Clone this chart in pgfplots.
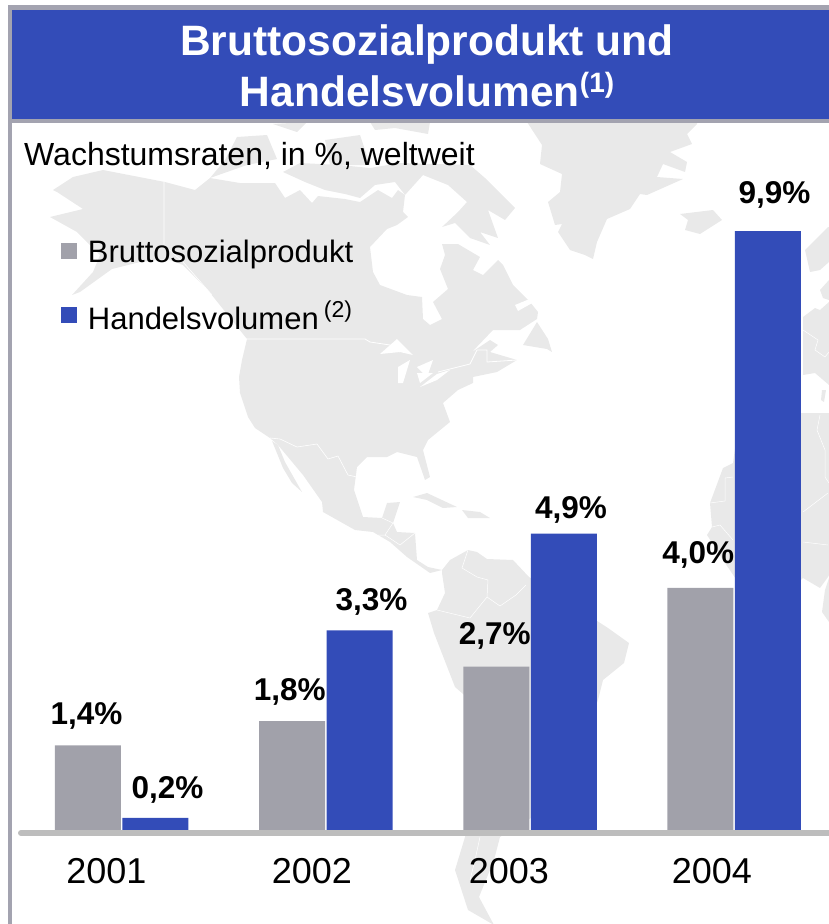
\documentclass[border=0pt]{standalone}
\usepackage{fontspec}
\setmainfont{Liberation Sans}
\usepackage{pgfplots}
\usepackage{pgfplotstable}
\pgfplotsset{compat=1.18}
\definecolor{mapc}{HTML}{E9E9E9}
\definecolor{barg}{HTML}{A1A1AA}
\definecolor{barb}{HTML}{334CB8}
\definecolor{framec}{HTML}{A3A3B0}
\definecolor{basec}{HTML}{BDBDBD}
\pgfplotstableread{
year val dx dy
2001 1.4 -1.35 20.3
2002 1.8 -2.25 20.4
2003 2.7 -1.55 21.65
2004 4.0 -2.15 24.0
}\gdp
\pgfplotstableread{
year val dx dy
2001 0.2 12.25 19.6
2002 3.3 11.95 19.65
2003 4.9 7.25 15.25
2004 9.9 6.55 27.85
}\trade
\begin{document}
\begin{tikzpicture}
\path[use as bounding box] (0,0) rectangle (829pt,924pt);
% --- map, frame, title and baseline, in pixels of the picture
\begin{axis}[width=829pt,height=924pt,scale only axis,hide axis,
  xmin=0,xmax=829,ymin=0,ymax=924,y dir=reverse,clip=true]
% North and Central America
\fill[mapc] (53,190)--(73,177)--(103,170)--(165,182)--(195,190)--(210,178)--(240,183)--(275,183)--(285,198)--(300,190)--(312,203)--(318,196)--(345,199)--(360,202)--(378,190)--(392,198)--(398,190)--(405,195)--(403,212)--(408,217)--(397,225)--(387,229)--(370,247)--(373,272)--(380,285)--(407,295)--(422,297)--(423,319)--(430,325)--(442,319)--(433,302)--(448,289)--(440,269)--(445,255)--(442,244)--(458,244)--(480,257)--(473,270)--(483,275)--(498,260)--(503,265)--(513,285)--(530,302)--(538,312)--(537,319)--(520,330)--(493,330)--(472,352)--(490,340)--(498,345)--(490,352)--(517,360)--(497,372)--(473,377)--(473,383)--(458,390)--(443,403)--(450,422)--(428,440)--(423,450)--(430,477)--(425,480)--(417,457)--(397,452)--(387,457)--(367,457)--(357,467)--(354,490)--(363,517)--(382,518)--(387,503)--(400,502)--(393,523)--(397,532)--(415,533)--(417,560)--(428,567)--(442,570)--(430,573)--(407,557)--(390,542)--(373,532)--(355,530)--(323,512)--(322,502)--(303,475)--(278,445)--(270,438)--(255,428)--(248,417)--(240,393)--(239,377)--(242,360)--(247,339)--(207,289)--(183,265)--(167,259)--(140,262)--(112,269)--(80,292)--(72,295)--(93,272)--(100,255)--(77,232)--(50,217)--(83,209)--(57,192)--cycle;
% Baja California
\fill[mapc] (272,441)--(278,445)--(285,462)--(302,492)--(292,483)--(283,468)--cycle;
% Arctic islands
\fill[mapc] (283,172)--(300,163)--(340,165)--(370,168)--(400,163)--(470,165)--(485,178)--(515,208)--(505,220)--(488,210)--(498,238)--(480,232)--(490,245)--(470,238)--(455,223)--(442,227)--(458,212)--(467,202)--(448,185)--(423,175)--(405,195)--(395,182)--(375,185)--(360,198)--(345,194)--(325,190)--(305,182)--cycle;
\fill[mapc] (370,122)--(430,122)--(428,134)--(395,128)--(375,130)--cycle;
\fill[mapc] (273,124)--(307,122)--(297,132)--cycle;
\fill[mapc] (237,137)--(267,135)--(277,159)--(247,165)--(210,178)--(225,160)--cycle;
\fill[mapc] (325,140)--(360,135)--(370,165)--(330,165)--cycle;
% Greenland, Iceland
\fill[mapc] (527,122)--(542,145)--(540,164)--(562,174)--(560,192)--(548,202)--(555,225)--(562,224)--(558,232)--(570,250)--(585,255)--(593,259)--(597,242)--(607,219)--(630,209)--(640,194)--(647,195)--(683,179)--(657,177)--(663,164)--(685,172)--(687,162)--(670,152)--(692,144)--(687,134)--(697,124)--(697,122)--cycle;
\fill[mapc] (680,214)--(713,210)--(722,220)--(700,234)--(685,230)--(688,220)--cycle;
% Newfoundland and Maritimes
\fill[mapc] (537,322)--(523,345)--(547,349)--(552,352)--(548,339)--cycle;
\fill[white] (515,305)--(532,298)--(534,302)--(518,311)--cycle;
% Caribbean
\fill[mapc] (413,497)--(427,493)--(457,507)--(443,508)--(427,500)--cycle;
\fill[mapc] (462,510)--(480,512)--(490,518)--(468,518)--cycle;
% South America
\fill[mapc] (442,570)--(450,560)--(468,550)--(477,552)--(487,559)--(513,560)--(529,577)--(608,628)--(629,643)--(624,663)--(603,680)--(598,700)--(560,800)--(500,837)--(494,860)--(479,897)--(494,925)--(468,910)--(455,870)--(465,837)--(470,700)--(455,687)--(434,633)--(428,613)--(437,610)--(445,593)--(442,573)--cycle;
% Africa
\fill[mapc] (733,463)--(723,468)--(710,503)--(712,527)--(707,535)--(725,563)--(740,585)--(790,590)--(803,578)--(820,588)--(828,577)--(829,575)--(829,413)--(740,413)--cycle;
\fill[mapc] (829,578)--(825,590)--(822,612)--(829,622)--cycle;
% Europe
\fill[mapc] (805,250)--(828,227)--(829,227)--(829,262)--(820,270)--(810,272)--cycle;
\fill[mapc] (820,290)--(829,280)--(829,300)--(823,298)--cycle;
\fill[mapc] (803,317)--(815,308)--(820,310)--(829,302)--(829,385)--(815,373)--(803,375)--cycle;
\fill[mapc] (822,390)--(826,390)--(824,402)--(821,400)--cycle;
% borders
\draw[white,line width=.6pt] (164,182)--(164,245)--(183,262)--(212,295);
\draw[white,line width=.8pt] (243,339)--(365,339)--(370,342)--(390,345)--(400,352);
\draw[white,line width=.8pt] (438,372)--(470,364)--(477,350)--(487,350)--(487,362)--(517,360);
\draw[white,line width=.6pt] (270,438)--(280,439)--(297,447)--(317,444)--(328,459)--(338,456)--(348,475)--(357,477);
\draw[white,line width=.5pt] (382,518)--(393,523)--(385,535)--(378,535);
\draw[white,line width=.5pt] (385,535)--(400,545)--(415,533);
\draw[white,line width=.5pt] (468,550)--(462,568)--(477,577)--(488,580)--(487,597)--(500,606)--(516,595)--(526,585);
\draw[white,line width=.5pt] (437,610)--(470,618)--(487,597);
\draw[white,line width=.5pt] (803,512)--(828,493);
\draw[white,line width=.5pt] (803,542)--(828,545);
\draw[white,line width=.5pt] (820,415)--(817,430)--(825,450)--(825,477)--(829,483);
\draw[white,line width=.5pt] (710,503)--(725,501)--(725,478)--(733,477);
\draw[white,line width=.5pt] (712,527)--(720,525)--(733,540);
\draw[white,line width=.5pt] (803,330)--(818,340)--(815,350)--(825,357)--(829,352);
\draw[white,line width=.5pt] (470,880)--(475,860)--(480,837);
% Great Lakes and Gulf of Maine
\fill[white] (380,354)--(397,339)--(413,355)--(400,352)--cycle;
\fill[white] (398,383)--(398,367)--(410,360)--(403,383)--cycle;
\fill[white] (420,383)--(433,373)--(417,373)--cycle;
\fill[white] (433,360)--(417,367)--(427,377)--cycle;
\fill[white] (420,387)--(437,380)--(450,370)--(437,374)--cycle;
% frame
\fill[framec] (8,5) rectangle (829,10);
\fill[framec] (8,5) rectangle (12,924);
\fill[barb] (12,9.5) rectangle (829,119);
\fill[framec] (12,119) rectangle (829,122.5);
\draw[basec,line width=6pt,line cap=round] (21,833)--(835,833);
\node[anchor=base,text=white,font=\fontsize{42.5}{50}\selectfont\bfseries,inner sep=0pt] at (427,55) {Bruttosozialprodukt und};
\node[anchor=base,text=white,font=\fontsize{42.5}{50}\selectfont\bfseries,inner sep=0pt] at (427,106) {Handelsvolumen\raisebox{14pt}{\fontsize{28}{30}\selectfont (1)}};
\node[anchor=base west,text=black,font=\fontsize{32}{38}\selectfont,inner sep=0pt] at (24,165) {Wachstumsraten, in \%, weltweit};
\end{axis}
% --- the data
\begin{axis}[width=829pt,height=924pt,scale only axis,
  ybar=1.5pt,bar width=66pt,
  xmin=2000.4045,xmax=2004.4643,ymin=-1.5537,ymax=13.719,
  axis x line=center,axis y line=none,axis line style={draw=none},
  xtick={2000.926,2001.932,2002.897,2003.891},
  xticklabels={2001,2002,2003,2004},
  major tick length=0pt,xtick style={draw=none},
  x tick label style={font=\fontsize{36}{40}\selectfont,anchor=base,yshift=-54pt,inner sep=0pt},
  clip=false,
  visualization depends on={\thisrow{dx} \as \dxv},
  visualization depends on={\thisrow{dy} \as \dyv},
  point meta=y,
  nodes near coords={\pgfmathprintnumber[assume math mode=true,fixed,fixed zerofill,precision=1,use comma]{\pgfplotspointmeta}\%},
  every node near coord/.append style={font=\fontsize{31.5}{36}\selectfont\bfseries,text=black,anchor=base,inner sep=0pt,xshift=\dxv pt,yshift=\dyv pt},
  legend image code/.code={\fill[#1] (0pt,-8.2pt) rectangle (16.4pt,8.2pt);},
  legend style={at={(60.5pt,684pt)},anchor=north west,draw=none,fill=none,inner sep=0pt,outer sep=0pt,
    row sep=38pt,font=\fontsize{31}{36}\selectfont,
    nodes={inner sep=0pt,text depth=0pt},
    /tikz/column 1/.style={column sep=11pt}},
  legend cell align=left,
]
\addplot[fill=barg,draw=none] table[x=year,y=val] {\gdp};
\addplot[fill=barb,draw=none] table[x=year,y=val] {\trade};
\legend{Bruttosozialprodukt,Handelsvolumen\,\raisebox{12pt}{\fontsize{23}{26}\selectfont (2)}}
\end{axis}
\end{tikzpicture}
\end{document}
